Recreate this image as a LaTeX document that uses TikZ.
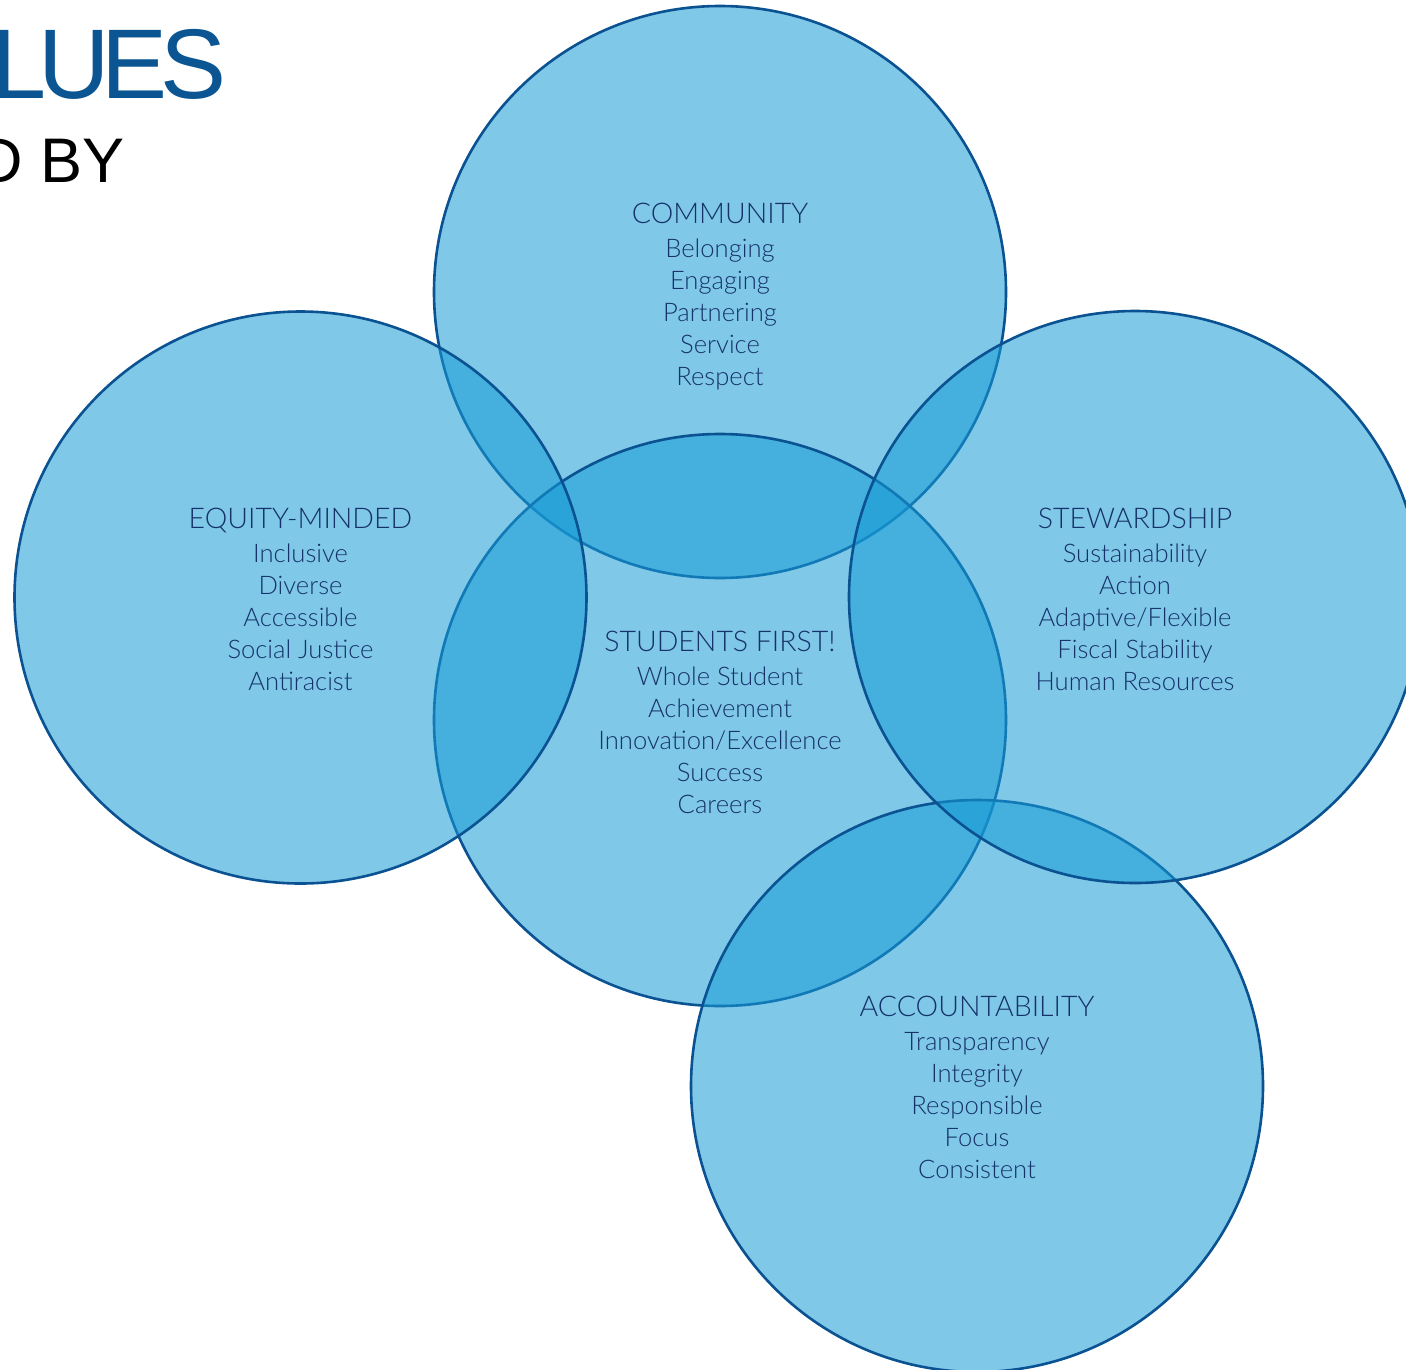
\documentclass[tikz,border=0pt]{standalone}
\usepackage{fontspec}
\setmainfont{Lato Light}
\newfontfamily\titlefont{Liberation Sans}
\definecolor{edgeblue}{HTML}{0A5291}
\definecolor{fillblue}{HTML}{159AD5}
\definecolor{textblue}{HTML}{15336A}
\definecolor{titleblue}{HTML}{0A5592}
\tikzset{
  circ/.style={circle, draw=edgeblue, line width=2.6pt, fill=fillblue,
    fill opacity=0.55, draw opacity=1, minimum size=572pt, inner sep=0pt, outer sep=0pt},
  lbl/.style={align=center, text=textblue, font=\fontsize{25.6}{32}\selectfont,
    inner sep=0pt, anchor=north},
}
\newcommand{\hd}[1]{{\fontsize{28.5}{32}\selectfont #1}\\[1.5pt]}
\begin{document}
\begin{tikzpicture}[x=1pt,y=-1pt]
\useasboundingbox (0,0) rectangle (1406,1369);
% titles
\node[anchor=base west, inner sep=0pt, text=titleblue,
  font={\titlefont\addfontfeature{LetterSpace=-8}\fontsize{99}{99}\selectfont}] (t1) at (-9,98) {LUES};
\node[anchor=base west, inner sep=0pt, text=black,
  font={\titlefont\fontsize{63}{63}\selectfont}] (t2) at (-23,182) {D BY};
% circles
\node[circ] (comm) at (720,292) {};
\node[circ] (stud) at (720,720) {};
\node[circ] (acct) at (977,1086) {};
\node[circ] (stew) at (1135,597) {};
\node[circ] (equi) at (300.5,597.5) {};
% texts
\node[lbl] (tcomm) at (720,203) {\hd{COMMUNITY}Belonging\\Engaging\\Partnering\\Service\\Respect};
\node[lbl] (tequi) at (300.5,508) {\hd{EQUITY-MINDED}Inclusive\\Diverse\\Accessible\\Social Justice\\Antiracist};
\node[lbl] (tstud) at (720,631) {\hd{STUDENTS FIRST!}Whole Student\\Achievement\\Innovation/Excellence\\Success\\Careers};
\node[lbl] (tstew) at (1135,508) {\hd{STEWARDSHIP}Sustainability\\Action\\Adaptive/Flexible\\Fiscal Stability\\Human Resources};
\node[lbl] (tacct) at (977,996) {\hd{ACCOUNTABILITY}Transparency\\Integrity\\Responsible\\Focus\\Consistent};
\end{tikzpicture}
\end{document}
